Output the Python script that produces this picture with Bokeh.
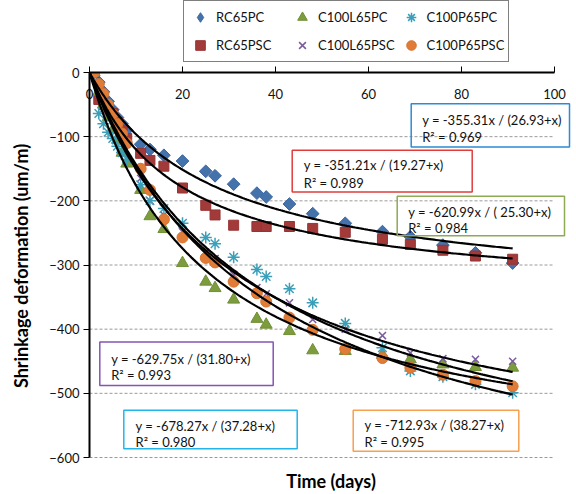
import numpy as np
from bokeh.plotting import figure
from bokeh.layouts import column
from bokeh.models import (Range1d, FixedTicker, LinearAxis, Legend, LegendItem,
                          Label, BoxAnnotation)
from bokeh.embed import file_html
from bokeh.resources import INLINE

# ---------------- data ----------------
days = [1, 2, 3, 4, 5, 6, 7, 8, 11, 13, 16, 20, 25, 27, 31, 36, 38, 43, 48, 55, 63, 69, 76, 83, 91]
rc65pc = [0, -15, -30, -45, -58, -70, -80, -90, -112, -120, -129, -138, -154, -161, -174, -188, -194,
          -205, -220, -235, -248, -256, -269, -281, -297]
rc65psc = [0, -42, -50, -57, -64, -78, -90, -103, -126, -137, -146, -180, -207, -222, -238, -240, -240,
           -240, -243, -249, -260, -268, -277, -286, -291]
c100l65pc = [0, -30, -50, -70, -90, -105, -125, -142, -183, -224, -244, -297, -326, -336, -354, -384, -393,
             -403, -433, -434, -440, -447, -455, -459, -460]
c100l65psc = [0, -25, -40, -55, -70, -85, -100, -112, -165, -200, -222, -248, -280, -290, -315, -335, -345,
              -359, -385, -400, -410, -437, -446, -447, -450]
c100p65pc = [0, -64, -80, -93, -103, -115, -125, -135, -175, -200, -212, -235, -257, -267, -288, -307, -318,
             -337, -359, -391, -429, -465, -474, -486, -499]
c100p65psc = [0, -18, -33, -50, -65, -80, -95, -110, -150, -183, -229, -257, -289, -296, -326, -344, -357,
              -382, -401, -431, -445, -460, -471, -481, -489]

series_names = ["RC65PC", "RC65PSC", "C100L65PC", "C100L65PSC", "C100P65PC", "C100P65PSC"]
series_values = [rc65pc, rc65psc, c100l65pc, c100l65psc, c100p65pc, c100p65psc]

# trend-line coefficients  y = a*x / (b + x)
fit_a = [-355.31, -351.21, -620.99, -629.75, -678.27, -712.93]
fit_b = [26.93, 19.27, 25.30, 31.80, 37.28, 38.27]
fit_end = 91
eq_text = ["y = -355.31x / (26.93+x)", "y = -351.21x / (19.27+x)", "y = -620.99x / ( 25.30+x)",
           "y = -629.75x / (31.80+x)", "y = -678.27x / (37.28+x)", "y = -712.93x / (38.27+x)"]
r2_text = ["R\u00b2 = 0.969", "R\u00b2 = 0.989", "R\u00b2 = 0.984",
           "R\u00b2 = 0.993", "R\u00b2 = 0.980", "R\u00b2 = 0.995"]

x_ticks = [0, 20, 40, 60, 80, 100]
y_ticks = [0, -100, -200, -300, -400, -500, -600]
x_max, y_min = 100, -600

# ---------------- layout / style ----------------
FONT = "Lato"
W, H = 576, 494
LEG_H = 62                                         # strip holding the legend
AX_L, AX_R, AX_T, AX_B = 89, 554, 72, 458          # axis box in page pixels
PXX = (AX_R - AX_L) / x_max                        # px per day
PXY = (AX_B - AX_T) / -y_min                       # px per um/m
H2 = H - LEG_H
ML, MR, MT, MB = AX_L, 4, AX_T - LEG_H, 34
FW, FH = W - ML - MR, H2 - MT - MB
x_end = FW / PXX                                   # frame wider than axis so boxes are not cut
y_start = -FH / PXY

p = figure(width=W, height=H2, x_range=Range1d(0, x_end), y_range=Range1d(y_start, 0),
           x_axis_location="above", toolbar_location=None, output_backend="svg",
           min_border_left=ML, min_border_right=MR, min_border_top=MT, min_border_bottom=MB)
p.outline_line_color = None
p.background_fill_color = "white"
p.border_fill_color = "white"
p.xgrid.visible = False
p.ygrid.visible = False

# dashed horizontal grid limited to the axis extent
p.segment(x0=[0] * len(y_ticks), x1=[x_max] * len(y_ticks), y0=y_ticks, y1=y_ticks,
          line_color="#9a9a9a", line_dash="3 2", line_width=1)

xa = p.xaxis[0]
xa.ticker = FixedTicker(ticks=x_ticks)
xa.bounds = (0, x_max)
xa.axis_line_width = 2
xa.axis_line_color = "black"
xa.major_tick_out = 6
xa.major_tick_in = 0
xa.major_tick_line_color = "black"
xa.minor_tick_out = 0
xa.minor_tick_in = 0
xa.major_label_standoff = -32
xa.major_label_text_font = FONT
xa.major_label_text_font_size = "13px"
xa.major_label_text_color = "#111111"

ya = p.yaxis[0]
ya.ticker = FixedTicker(ticks=y_ticks)
ya.bounds = (y_min, 0)
ya.axis_line_width = 2
ya.axis_line_color = "black"
ya.major_tick_out = 6
ya.major_tick_in = 0
ya.minor_tick_out = 0
ya.minor_tick_in = 0
ya.major_label_standoff = 4
ya.major_label_text_font = FONT
ya.major_label_text_font_size = "13px"
ya.major_label_text_color = "#111111"
ya.axis_label = "Shrinkage deformation (um/m)"
ya.axis_label_text_font = FONT
ya.axis_label_text_font_style = "bold"
ya.axis_label_text_font_size = "18px"
ya.axis_label_text_color = "black"
ya.axis_label_standoff = 14

xb = LinearAxis(ticker=FixedTicker(ticks=[]), axis_label="Time (days)")
xb.axis_line_color = None
xb.major_tick_line_color = None
xb.minor_tick_line_color = None
xb.major_tick_out = 0
xb.major_label_standoff = 0
xb.axis_label_text_font = FONT
xb.axis_label_text_font_style = "bold"
xb.axis_label_text_font_size = "18px"
xb.axis_label_text_color = "black"
xb.axis_label_standoff = 10
p.add_layout(xb, "below")

styles = [
    dict(marker="square", size=9, angle=np.pi / 4, fill_color="#4472AA", line_color="#3B66A0"),
    dict(marker="square", size=10, fill_color="#A23A3A", line_color="#983333"),
    dict(marker="triangle", size=12, fill_color="#7C9C3E", line_color="#708F36"),
    dict(marker="x", size=10, line_color="#7A5AA0", line_width=1.5),
    dict(marker="asterisk", size=12, line_color="#3C9FB9", line_width=1.5),
    dict(marker="circle", size=11, fill_color="#E07C38", line_color="#D8732F"),
]

for vals, st in zip(series_values, styles):
    p.scatter(days, vals, **st)

xs = np.linspace(0, fit_end, 200)
for a, b in zip(fit_a, fit_b):
    p.line(xs, a * xs / (b + xs), line_color="black", line_width=2.2)


# annotation boxes (page-pixel layout -> data coordinates)
def dx(px):
    return (px - AX_L) / PXX


def dy(py):
    return -(py - AX_T) / PXY


box_colors = ["#2D8BD6", "#E03C3C", "#8DAA55", "#8553B4", "#22B5EC", "#F7A051"]
box_layout = [  # left, right, top, bottom, text-left, line1, line2 (page pixels)
    (410.7, 569.0, 103.3, 146.7, 421.7, 119.3, 136.3),
    (291.7, 471.7, 150.0, 191.7, 303.3, 165.0, 182.7),
    (396.7, 564.0, 196.0, 235.7, 407.7, 211.7, 227.7),
    (99.3, 272.7, 342.3, 385.7, 110.7, 359.0, 375.0),
    (123.3, 296.7, 410.7, 449.3, 135.0, 426.0, 442.0),
    (352.7, 518.3, 410.7, 451.7, 364.0, 425.0, 442.7),
]
for i, (l, r, t, b, tl, l1, l2) in enumerate(box_layout):
    p.add_layout(BoxAnnotation(left=dx(l), right=dx(r), top=dy(t), bottom=dy(b),
                               fill_alpha=0, fill_color=None, line_color=box_colors[i],
                               line_alpha=1, line_width=1.5))
    for txt, ly in ((eq_text[i], l1), (r2_text[i], l2)):
        p.add_layout(Label(x=dx(tl), y=dy(ly), text=txt, text_font=FONT, text_font_size="13px",
                           text_color="#111111", text_align="left", text_baseline="middle"))

# ---------------- legend strip above the plot ----------------
# (frames of the column are aligned, so the legend location is relative to AX_L)
lf = figure(width=W, height=LEG_H, x_range=Range1d(1000, 1001), y_range=Range1d(1000, 1001),
            x_axis_location=None, y_axis_location=None, toolbar_location=None,
            output_backend="svg", min_border=0)
lf.outline_line_color = None
lf.xgrid.visible = False
lf.ygrid.visible = False
leg_styles = [dict(st) for st in styles]
leg_styles[0] = dict(marker="diamond", size=13, fill_color="#4472AA", line_color="#3B66A0")
leg_renderers = [lf.scatter(days, vals, **st) for vals, st in zip(series_values, leg_styles)]

order = [0, 2, 4, 1, 3, 5]
legend = Legend(items=[LegendItem(label=series_names[i], renderers=[leg_renderers[i]]) for i in order],
                location=(183 - AX_L, 0), orientation="horizontal", ncols=3)
legend.label_text_font = FONT
legend.label_text_font_size = "13px"
legend.label_text_color = "#111111"
legend.glyph_width = 24
legend.glyph_height = 24
legend.label_height = 24
legend.label_width = 70
legend.label_standoff = 4
legend.spacing = 4
legend.padding = 4
legend.margin = 0
legend.border_line_color = "black"
legend.border_line_width = 1
legend.background_fill_alpha = 1
lf.add_layout(legend, "center")

layout = column(lf, p, spacing=0)
open("out.html", "w").write(file_html(layout, INLINE))
